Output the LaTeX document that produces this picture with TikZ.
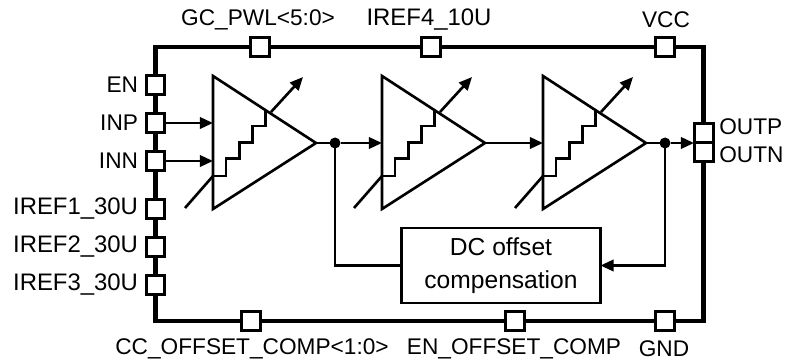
\documentclass[tikz,border=0pt]{standalone}
\usepackage{fontspec}
\setmainfont{Liberation Sans}
\usetikzlibrary{arrows.meta, positioning}
\tikzset{
    frame/.style={line width=2.4pt},
    wire/.style={line width=1.5pt},
    sig/.style={wire, -{Triangle[length=7.5pt, width=6.5pt]}},
    pad/.style={draw, wire, fill=white, rectangle, minimum size=0.37cm, inner sep=0pt, outer sep=0pt},
    junct/.style={circle, fill=black, minimum size=0.22cm, inner sep=0pt, outer sep=0pt},
    pinlabel/.style={inner sep=0pt, font=\fontsize{12.9}{14}\selectfont},
    widelabel/.style={pinlabel, font=\fontsize{13.6}{14}\selectfont}
}
\begin{document}
\begin{tikzpicture}[x=0.02cm, y=-0.02cm]
    \useasboundingbox (0, 0) rectangle (790, 364);
    \coordinate (tl) at (155.5, 47);
    \coordinate (tr) at (703.5, 47);
    \coordinate (br) at (703.5, 321);
    \coordinate (bl) at (155.5, 321);
    \draw[frame, line join=miter] (tl) -- (tr) -- (br) -- (bl) -- cycle;

    % pads on the left side
    \foreach \name/\y/\txt in {en/85/EN, inp/123/INP, inn/161/INN} {
        \node[pad] at (155.5, \y) (\name) {};
        \node[pinlabel, left=4.5pt of \name] (\name txt) {\txt};
    }
    \foreach \name/\y/\txt in {irefa/209/IREF1\_30U, irefb/247/IREF2\_30U, irefc/285/IREF3\_30U} {
        \node[pad] at (155.5, \y) (\name) {};
        \node[widelabel, left=4.5pt of \name] (\name txt) {\txt};
    }
    % pads on the top and bottom sides
    \node[pad] at (260, 47) (gc) {};
    \node[pad] at (431, 47) (irefd) {};
    \node[pad] at (665, 47) (vcc) {};
    \node[pad] at (251, 321) (cc) {};
    \node[pad] at (515, 321) (enoff) {};
    \node[pad] at (665, 321) (gnd) {};
    \node[pinlabel] at (258, 20) (gctxt) {GC\_PWL<5:0>};
    \node[widelabel] at (429, 20) (irefdtxt) {IREF4\_10U};
    \node[pinlabel] at (666, 20) (vcctxt) {VCC};
    \node[pinlabel] at (252, 349) (cctxt) {CC\_OFFSET\_COMP<1:0>};
    \node[pinlabel] at (514, 349) (enofftxt) {EN\_OFFSET\_COMP};
    \node[pinlabel] at (664, 349) (gndtxt) {GND};
    % output pads
    \node[pad] at (704, 133) (outp) {};
    \node[pad] at (704, 152) (outn) {};
    \node[pinlabel, anchor=west] at (719, 127) (outptxt) {OUTP};
    \node[pinlabel, anchor=west] at (719, 155) (outntxt) {OUTN};

    % amplifiers
    \foreach \n/\x in {1/213, 2/382, 3/543} {
        \begin{scope}[xshift=\x*0.02cm]
            \coordinate (amp\n t) at (0, 76);
            \coordinate (amp\n b) at (0, 209);
            \coordinate (amp\n o) at (103, 143);
            \coordinate (amp\n i) at (0, 143);
            \coordinate (amp\n s) at (0, 176);
            \coordinate (amp\n e) at (52.5, 110);
            \coordinate (amp\n f) at (-28, 208);
            \coordinate (amp\n g) at (58, 112);
            \coordinate (amp\n h) at (90, 77);
            \draw[wire, line join=miter] (amp\n t) -- (amp\n o) -- (amp\n b) -- cycle;
            \draw[wire] (amp\n s) -- ++(13, 0) -- ++(0, -17.5) -- ++(13.5, 0) -- ++(0, -16) -- ++(13, 0) -- ++(0, -16.5) -- ++(13, 0) -- (amp\n e);
            \draw[wire] (amp\n f) -- (amp\n s);
            \draw[sig] (amp\n g) -- (amp\n h);
        \end{scope}
    }

    % offset block
    \node[draw, wire, minimum width=3.98cm, minimum height=1.5cm, align=center, inner sep=0pt, outer sep=0pt, font=\fontsize{14}{18.7}\selectfont] at (501, 265.5) (dc) {DC offset\\compensation};

    % signal path
    \coordinate (inpx) at (213, 123);
    \coordinate (innx) at (213, 161);
    \coordinate (outx) at (694, 143);
    \draw[sig] (inp) -- (inpx);
    \draw[sig] (inn) -- (innx);
    \node[junct] at (335, 143) (nodea) {};
    \node[junct] at (665, 143) (nodeb) {};
    \draw[wire] (amp1o) -- (nodea);
    \draw[sig] (nodea) -- (amp2i);
    \draw[sig] (amp2o) -- (amp3i);
    \draw[wire] (amp3o) -- (nodeb);
    \draw[sig] (nodeb) -- (outx);
    \draw[wire] (nodea) |- (dc.west);
    \draw[sig] (nodeb) |- (dc.east);
\end{tikzpicture}
\end{document}
